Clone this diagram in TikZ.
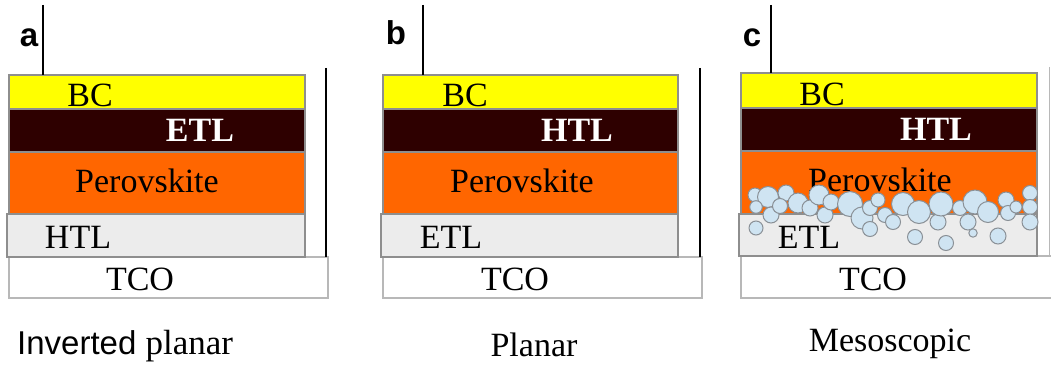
\documentclass[tikz,border=0pt]{standalone}
\usepackage{fontspec}
\setmainfont{Liberation Serif}
\setsansfont{Liberation Sans}
\definecolor{bcyel}{HTML}{FFFF00}
\definecolor{darkl}{HTML}{2E0000}
\definecolor{perov}{HTML}{FF6600}
\definecolor{grayl}{HTML}{ECECEC}
\definecolor{edgec}{HTML}{8E8E8E}
\definecolor{tcoedge}{HTML}{B8B8B8}
\definecolor{bubfill}{HTML}{CFE4F2}
\definecolor{bubedge}{HTML}{8A9096}
\begin{document}
\begin{tikzpicture}[x=1pt,y=-1pt,
  layer/.style={draw=edgec, line width=1.2pt},
  tcolayer/.style={draw=tcoedge, fill=white, line width=1.2pt},
  lead/.style={draw=black, line width=1.8pt},
  lbl/.style={anchor=base, inner sep=0pt, font=\fontsize{34}{40}\selectfont},
  wlbl/.style={lbl, text=white, font=\fontsize{34}{40}\selectfont\bfseries},
  panel/.style={anchor=base, inner sep=0pt, font=\fontsize{33}{40}\selectfont\sffamily\bfseries},
  bub/.style={fill=bubfill, draw=bubedge, line width=1pt}]
\useasboundingbox (0,0) rectangle (1051,366);

% ---------------- panel a ----------------
\coordinate (aTop) at (43,5);
\coordinate (aBot) at (43,75);
\coordinate (aRTop) at (326,68);
\coordinate (aRBot) at (326,257);
\draw[tcolayer] (9,257) rectangle (328,298);
\draw[layer, fill=grayl] (7,214) rectangle (305,257);
\draw[layer, fill=perov] (9,152) rectangle (305,214);
\draw[layer, fill=darkl] (9,109) rectangle (305,152);
\draw[layer, fill=bcyel] (9,75) rectangle (305,109);
\draw[lead] (aTop) -- (aBot);
\draw[lead] (aRTop) -- (aRBot);
\node[panel] (la) at (29,47) {a};
\node[lbl] (aBC) at (90,107) {BC};
\node[wlbl] (aETL) at (200,142) {ETL};
\node[lbl] (aPer) at (147,193) {Perovskite};
\node[lbl] (aHTL) at (78,248) {HTL};
\node[lbl] (aTCO) at (140,290) {TCO};
\node[anchor=base west, inner sep=0pt] (capA) at (17,354)
  {\fontsize{33}{40}\selectfont\sffamily Inverted \rmfamily\fontsize{35}{40}\selectfont planar};

% ---------------- panel b ----------------
\coordinate (bTop) at (423,5);
\coordinate (bBot) at (423,75);
\coordinate (bRTop) at (700,68);
\coordinate (bRBot) at (700,257);
\draw[tcolayer] (383,257) rectangle (702,298);
\draw[layer, fill=grayl] (381,214) rectangle (678,257);
\draw[layer, fill=perov] (383,152) rectangle (678,214);
\draw[layer, fill=darkl] (383,109) rectangle (678,152);
\draw[layer, fill=bcyel] (383,75) rectangle (678,109);
\draw[lead] (bTop) -- (bBot);
\draw[lead] (bRTop) -- (bRBot);
\node[panel] (lb) at (396,45) {b};
\node[lbl] (bBC) at (465,107) {BC};
\node[wlbl] (bHTL) at (577,142) {HTL};
\node[lbl] (bPer) at (522,193) {Perovskite};
\node[lbl] (bETL) at (451,248) {ETL};
\node[lbl] (bTCO) at (515,290) {TCO};
\node[lbl] (capB) at (534,356) {Planar};

% ---------------- panel c ----------------
\coordinate (cTop) at (771,5);
\coordinate (cBot) at (771,73);
\coordinate (cRTop) at (1049,67);
\coordinate (cRBot) at (1049,256);
\draw[tcolayer] (741,256) rectangle (1060,298);
\draw[layer, fill=grayl] (739,214) rectangle (1037,256);
\draw[layer, fill=perov] (741,151) rectangle (1037,214);
\draw[layer, fill=darkl] (741,108) rectangle (1037,151);
\draw[layer, fill=bcyel] (741,73) rectangle (1037,108);
\draw[lead] (cTop) -- (cBot);
\draw[draw=tcoedge, line width=1pt] (cRTop) -- (cRBot);
\node[panel] (lc) at (752,47) {c};
\node[lbl] (cBC) at (822,106) {BC};
\node[wlbl] (cHTL) at (936,141) {HTL};
\node[lbl] (cPer) at (880,192) {Perovskite};
% mesoporous scaffold particles
\foreach \px/\py/\r in {
  755/195/7, 768/197/10.5, 786/193/8, 756/207/6.3, 771/215/8,
  780/206/7.5, 798/203/10, 810/208/8, 819/195/10, 825/215/8,
  831/202/8, 850/204/12.5, 862/218/11, 870/229/7.5, 870/208/7.5,
  878/200/7, 885/215/7.5, 756/228/7, 893/222/7.5, 903/204/11.5,
  919/212/11.5, 915/237/7.5, 938/222/8, 941/204/12, 946/243/7.5,
  960/208/7.5, 968/222/8, 975/202/12, 973/233/4.2, 988/212/10.5,
  998/236/8, 1006/200/8, 1008/213/7.5, 1016/207/6, 1030/193/7.5,
  1030/207/7.5, 1030/222/8}
  {\draw[bub] (\px,\py) circle[radius=\r pt];}
\node[lbl] (cETL) at (809,248) {ETL};
\node[lbl] (cTCO) at (873,290) {TCO};
\node[lbl] (capC) at (890,351) {Mesoscopic};
\end{tikzpicture}
\end{document}
